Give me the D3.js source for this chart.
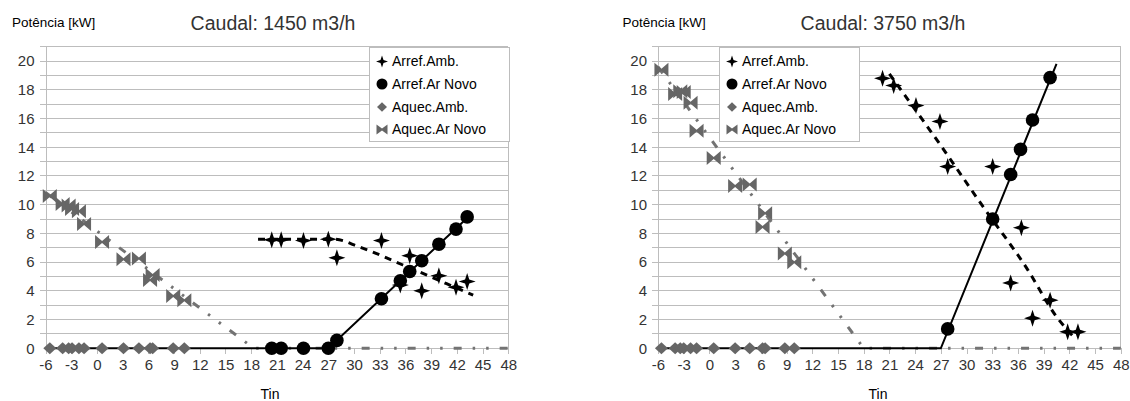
<!DOCTYPE html>
<html>
<head>
<meta charset="utf-8">
<script src="https://cdn.jsdelivr.net/npm/d3@7"></script>
<style>
  html, body { margin: 0; padding: 0; background: #fff; }
  svg { display: block; font-family: "Liberation Sans", Arial, sans-serif; }
</style>
</head>
<body>
<svg id="chart" width="1130" height="401"></svg>
<script>
// ---------------- DATA ----------------
const xTicks = [-6, -3, 0, 3, 6, 9, 12, 15, 18, 21, 24, 27, 30, 33, 36, 39, 42, 45, 48];
const yTicks = [0, 2, 4, 6, 8, 10, 12, 14, 16, 18, 20];
const legendLabels = ["Arref.Amb.", "Arref.Ar Novo", "Aquec.Amb.", "Aquec.Ar Novo"];
const yAxisTitle = "Potência [kW]";
const xAxisTitle = "Tin";

// Chart 1 : Caudal 1450 m3/h
const c1Title = "Caudal: 1450 m3/h";
const c1TinCool      = [20.4, 21.5, 24.1, 27.0, 28.0, 33.2, 35.4, 36.5, 37.9, 39.9, 41.9, 43.2];
const c1ArrefAmb     = [7.55, 7.55, 7.5, 7.6, 6.3, 7.5, 4.4, 6.45, 4.0, 5.05, 4.25, 4.65];
const c1ArrefArNovo  = [0, 0, 0, 0, 0.55, 3.45, 4.7, 5.35, 6.1, 7.25, 8.3, 9.15];
const c1TinHeat      = [-5.5, -4.0, -3.3, -2.9, -2.1, -1.5, 0.6, 3.1, 4.9, 6.2, 6.5, 8.9, 10.2];
const c1AquecAmb     = [0, 0, 0, 0, 0, 0, 0, 0, 0, 0, 0, 0, 0];
const c1AquecArNovo  = [10.6, 10.05, 9.95, 9.7, 9.55, 8.65, 7.4, 6.2, 6.25, 4.75, 5.1, 3.65, 3.35];
// trend lines chart 1
const c1TrendAmbX    = [18.8, 27.5, 28.7, 30.0, 32.2, 33.8, 35.7, 38.5, 40.8, 43.9];
const c1TrendAmbY    = [7.6, 7.6, 7.5, 7.2, 6.7, 6.3, 5.8, 5.1, 4.5, 3.7];
const c1TrendArX     = [-6, 27.0, 43.6];
const c1TrendArY     = [0, 0, 9.3];
const c1TrendHeatX   = [-6, 18.3, 48];
const c1TrendHeatY   = [10.85, 0, 0];

// Chart 2 : Caudal 3750 m3/h
const c2Title = "Caudal: 3750 m3/h";
const c2TinCoolAmb   = [20.2, 21.5, 24.1, 26.9, 27.8, 33.05, 35.15, 36.4, 37.7, 39.75, 41.8, 43.0];
const c2ArrefAmb     = [18.8, 18.3, 16.9, 15.8, 12.65, 12.65, 4.55, 8.4, 2.1, 3.35, 1.15, 1.15];
const c2TinCoolAr    = [27.8, 33.05, 35.15, 36.3, 37.7, 39.75];
const c2ArrefArNovo  = [1.35, 9.0, 12.1, 13.85, 15.9, 18.85];
const c2TinHeat      = [-5.6, -4.0, -3.4, -3.0, -2.2, -1.5, 0.5, 3.0, 4.7, 6.2, 6.5, 8.8, 9.9];
const c2AquecAmb     = [0, 0, 0, 0, 0, 0, 0, 0, 0, 0, 0, 0, 0];
const c2AquecArNovo  = [19.4, 17.7, 17.9, 17.85, 17.1, 15.15, 13.25, 11.3, 11.4, 8.45, 9.4, 6.6, 6.0];
// trend lines chart 2
const c2TrendAmbX    = [21.0, 26.9, 32.0, 37.0, 40.5, 42.5];
const c2TrendAmbY    = [19.1, 14.2, 9.8, 5.6, 2.2, 0.8];
const c2TrendArX     = [-6, 27.0, 40.5];
const c2TrendArY     = [0, 0, 19.8];
const c2TrendHeatX   = [-6, 18.0, 48];
const c2TrendHeatY   = [19.6, 0, 0];

// ---------------- DRAWING ----------------
const svg = d3.select("#chart");
const zip = (xs, ys) => xs.map((x, i) => ({ x: x, y: ys[i] }));

const GRAY_MARK = "#666666";
const GRID = "#bdbdbd";

function starPath(s, w) {
  return `M0,${-s}L${w},${-w}L${s},0L${w},${w}L0,${s}L${-w},${w}L${-s},0L${-w},${-w}Z`;
}
function diamondPath(w, h) {
  return `M0,${-h}L${w},0L0,${h}L${-w},0Z`;
}
function bowtiePath(w, h) {
  return `M${-w},${-h}L0,-1L${w},${-h}L${w},${h}L0,1L${-w},${h}Z`;
}

const markers = {
  plus:    { d: starPath(8.5, 2.1), fill: "#000" },
  circle:  { circle: 6.8, fill: "#000" },
  diamond: { d: diamondPath(6.5, 6), fill: GRAY_MARK },
  bowtie:  { d: bowtiePath(7, 7), fill: GRAY_MARK }
};
const legendMarkers = {
  plus:    { d: starPath(6, 1.5), fill: "#000" },
  circle:  { circle: 5.5, fill: "#000" },
  diamond: { d: diamondPath(5, 4.8), fill: GRAY_MARK },
  bowtie:  { d: bowtiePath(5.5, 5), fill: GRAY_MARK }
};

function drawMarker(g, m, x, y) {
  if (m.circle) {
    g.append("circle").attr("cx", x).attr("cy", y).attr("r", m.circle).attr("fill", m.fill);
  } else {
    g.append("path").attr("d", m.d).attr("transform", `translate(${x},${y})`).attr("fill", m.fill);
  }
}

function drawChart(cfg) {
  const x = d3.scaleLinear().domain([-6, 48]).range([cfg.x0, cfg.x1]);
  const y = d3.scaleLinear().domain([0, 21]).range([348.3, 46.7]);
  const g = svg.append("g");

  // horizontal grid lines every unit (incl. top border)
  const gridVals = d3.range(1, 22);
  g.append("g").selectAll("line").data(gridVals).join("line")
    .attr("x1", x(-6) - 6).attr("x2", x(48))
    .attr("y1", d => y(d)).attr("y2", d => y(d))
    .attr("stroke", GRID).attr("stroke-width", 1).attr("shape-rendering", "crispEdges");

  // right border
  g.append("line").attr("x1", x(48)).attr("x2", x(48)).attr("y1", y(21)).attr("y2", y(0))
    .attr("stroke", GRID).attr("shape-rendering", "crispEdges");

  // y axis
  const yAxis = d3.axisLeft(y).tickValues(yTicks).tickSize(0).tickPadding(11);
  const ya = g.append("g").attr("transform", `translate(${x(-6)},0)`).call(yAxis);
  ya.select(".domain").attr("stroke", GRID).attr("shape-rendering", "crispEdges");
  ya.selectAll("text").attr("font-size", 15).attr("fill", "#333")
    .attr("font-family", "Liberation Sans, Arial, sans-serif");

  // x axis
  const xAxis = d3.axisBottom(x).tickValues(xTicks).tickSize(6).tickPadding(5)
    .tickFormat(d => d < 0 ? "-" + Math.abs(d) : String(d));
  const xa = g.append("g").attr("transform", `translate(0,${y(0)})`).call(xAxis);
  xa.select(".domain").attr("stroke", GRID).attr("shape-rendering", "crispEdges");
  xa.selectAll(".tick line").attr("stroke", GRID).attr("shape-rendering", "crispEdges");
  xa.selectAll("text").attr("font-size", 15).attr("fill", "#333")
    .attr("font-family", "Liberation Sans, Arial, sans-serif");

  // titles
  g.append("text").attr("x", cfg.potX).attr("y", 27).attr("font-size", 13.5)
    .attr("fill", "#000").text(yAxisTitle);
  g.append("text").attr("x", cfg.titleX).attr("y", 30).attr("font-size", 19.5)
    .attr("text-anchor", "middle").attr("fill", "#333").text(cfg.title);
  g.append("text").attr("x", cfg.tinX).attr("y", 399).attr("font-size", 14)
    .attr("text-anchor", "middle").attr("fill", "#000").text(xAxisTitle);

  const line = d3.line().x(d => x(d.x)).y(d => y(d.y));
  const smooth = d3.line().x(d => x(d.x)).y(d => y(d.y)).curve(d3.curveMonotoneX);

  // gray dash-dot trend (heating, fresh air)
  g.append("path").datum(cfg.trendHeat).attr("d", line)
    .attr("fill", "none").attr("stroke", "#737373").attr("stroke-width", 3)
    .attr("stroke-dasharray", "8,11,2.5,11,2.5,11");
  // black solid trend (cooling, fresh air)
  g.append("path").datum(cfg.trendAr).attr("d", line)
    .attr("fill", "none").attr("stroke", "#000").attr("stroke-width", 2);
  // black dashed trend (cooling, ambient)
  g.append("path").datum(cfg.trendAmb).attr("d", smooth)
    .attr("fill", "none").attr("stroke", "#000").attr("stroke-width", 3)
    .attr("stroke-dasharray", "7,6");

  // markers
  const mg = g.append("g");
  cfg.arrefAmb.forEach(p => drawMarker(mg, markers.plus, x(p.x), y(p.y)));
  cfg.arrefAr.forEach(p => drawMarker(mg, markers.circle, x(p.x), y(p.y)));
  cfg.aquecAmb.forEach(p => drawMarker(mg, markers.diamond, x(p.x), y(p.y)));
  cfg.aquecAr.forEach(p => drawMarker(mg, markers.bowtie, x(p.x), y(p.y)));

  // legend
  const lg = g.append("g");
  lg.append("rect").attr("x", cfg.legX + 0.5).attr("y", 47.5).attr("width", 140).attr("height", 94)
    .attr("fill", "#fff").attr("stroke", GRID);
  const keys = ["plus", "circle", "diamond", "bowtie"];
  const rowY = [61.5, 84, 107, 129.5];
  legendLabels.forEach((lab, i) => {
    drawMarker(lg, legendMarkers[keys[i]], cfg.legX + 13, rowY[i]);
    lg.append("text").attr("x", cfg.legX + 23).attr("y", rowY[i]).attr("dy", "0.35em")
      .attr("font-size", 14).attr("fill", "#000").text(lab);
  });
}

drawChart({
  x0: 45.5, x1: 508.3, title: c1Title, titleX: 273, potX: 12, tinX: 270, legX: 369,
  arrefAmb: zip(c1TinCool, c1ArrefAmb),
  arrefAr: zip(c1TinCool, c1ArrefArNovo),
  aquecAmb: zip(c1TinHeat, c1AquecAmb),
  aquecAr: zip(c1TinHeat, c1AquecArNovo),
  trendAmb: zip(c1TrendAmbX, c1TrendAmbY),
  trendAr: zip(c1TrendArX, c1TrendArY),
  trendHeat: zip(c1TrendHeatX, c1TrendHeatY)
});
drawChart({
  x0: 658, x1: 1120.8, title: c2Title, titleX: 883, potX: 622.5, tinX: 878, legX: 719,
  arrefAmb: zip(c2TinCoolAmb, c2ArrefAmb),
  arrefAr: zip(c2TinCoolAr, c2ArrefArNovo),
  aquecAmb: zip(c2TinHeat, c2AquecAmb),
  aquecAr: zip(c2TinHeat, c2AquecArNovo),
  trendAmb: zip(c2TrendAmbX, c2TrendAmbY),
  trendAr: zip(c2TrendArX, c2TrendArY),
  trendHeat: zip(c2TrendHeatX, c2TrendHeatY)
});
</script>
</body>
</html>
